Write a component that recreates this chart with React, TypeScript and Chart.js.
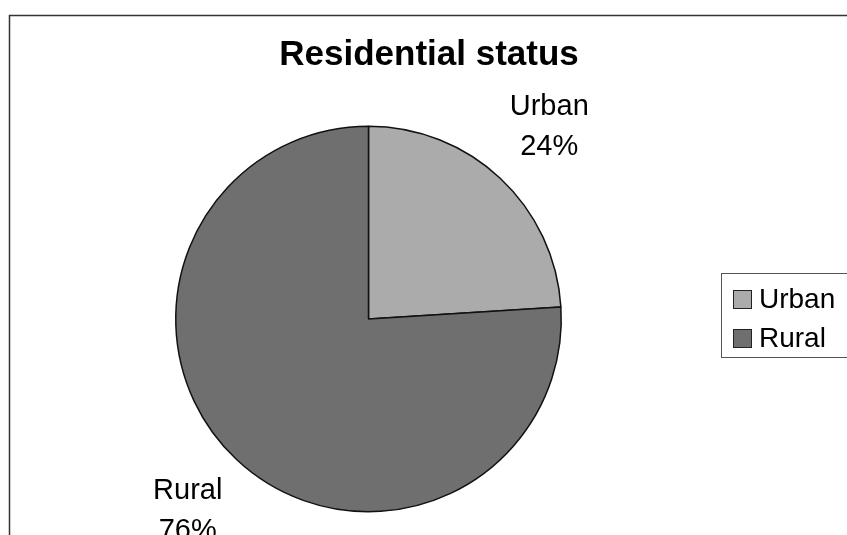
import React, { useEffect, useRef } from "react";
import { Chart, registerables } from "chart.js";

Chart.register(...registerables);

// Residential status shares
const categories = ["Urban", "Rural"];
const shares = [24, 76];
const sliceColors = ["#ababab", "#6f6f6f"];
const chartTitle = "Residential status";

const FONT = "'Liberation Sans', Arial, sans-serif";

const decorPlugin = {
  id: "decor",
  afterDraw(chart: any) {
    const ctx = chart.ctx as CanvasRenderingContext2D;
    ctx.save();

    // outer frame
    ctx.strokeStyle = "#333";
    ctx.lineWidth = 1.5;
    ctx.strokeRect(9.5, 15.5, 860, 540);

    // title
    ctx.fillStyle = "#000";
    ctx.font = `bold 35px ${FONT}`;
    ctx.textAlign = "center";
    ctx.textBaseline = "alphabetic";
    ctx.fillText(chartTitle, 429, 65);

    // category + percentage labels outside each slice
    const meta = chart.getDatasetMeta(0);
    const values = chart.data.datasets[0].data as number[];
    const total = values.reduce((a, b) => a + b, 0);
    ctx.font = `29px ${FONT}`;
    ctx.textBaseline = "middle";
    meta.data.forEach((arc: any, i: number) => {
      const p = arc.getProps(["x", "y", "startAngle", "endAngle", "outerRadius"], true);
      const mid = (p.startAngle + p.endAngle) / 2;
      const d = p.outerRadius * 1.37;
      const cx = p.x + Math.cos(mid) * d;
      const cy = p.y + Math.sin(mid) * d;
      const pct = Math.round((values[i] / total) * 100) + "%";
      ctx.fillText(String(chart.data.labels[i]), cx, cy - 20);
      ctx.fillText(pct, cx, cy + 20);
    });

    // legend box
    ctx.strokeStyle = "#555";
    ctx.lineWidth = 1;
    ctx.strokeRect(721.5, 273.5, 150, 84);
    ctx.textAlign = "left";
    ctx.font = `28px ${FONT}`;
    (chart.data.labels as string[]).forEach((lab, i) => {
      const y = 290 + i * 39;
      ctx.fillStyle = sliceColors[i];
      ctx.fillRect(733, y, 18, 18);
      ctx.strokeStyle = "#222";
      ctx.strokeRect(733.5, y + 0.5, 18, 18);
      ctx.fillStyle = "#000";
      ctx.fillText(lab, 759, y + 10);
    });

    ctx.restore();
  },
};

export default function App() {
  const ref = useRef<HTMLCanvasElement>(null);

  useEffect(() => {
    const canvas = ref.current;
    if (!canvas) return;
    const chart = new Chart(canvas, {
      type: "pie",
      data: {
        labels: categories,
        datasets: [
          {
            data: shares,
            backgroundColor: sliceColors,
            borderColor: "#111",
            borderWidth: 1.5,
          },
        ],
      },
      options: {
        responsive: false,
        animation: false,
        devicePixelRatio: 1,
        layout: { padding: { left: 175, right: 285, top: 125, bottom: 22 } },
        plugins: {
          legend: { display: false },
          title: { display: false },
          tooltip: { enabled: false },
        },
      },
      plugins: [decorPlugin],
    });
    return () => chart.destroy();
  }, []);

  return (
    <div style={{ position: "fixed", left: 0, top: 0, width: 847, height: 535, background: "#fff" }}>
      <canvas ref={ref} width={847} height={535} />
    </div>
  );
}
